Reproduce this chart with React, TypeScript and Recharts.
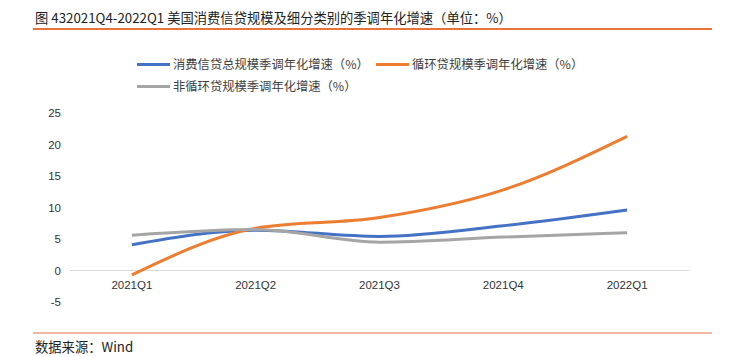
import React from 'react';
import { LineChart, Line, XAxis, YAxis, ReferenceLine } from 'recharts';

const quarters = ['2021Q1', '2021Q2', '2021Q3', '2021Q4', '2022Q1'];
const totalGrowth = [4.1, 6.4, 5.4, 7.1, 9.6];
const revolvingGrowth = [-0.7, 6.7, 8.4, 12.8, 21.3];
const nonRevolvingGrowth = [5.6, 6.5, 4.5, 5.3, 6.0];
const yTicks = [-5, 0, 5, 10, 15, 20, 25];

const series = [
  { key: 'total', name: '消费信贷总规模季调年化增速（%）', color: '#4472C4', values: totalGrowth },
  { key: 'revolving', name: '循环贷规模季调年化增速（%）', color: '#ED7D31', values: revolvingGrowth },
  { key: 'nonRevolving', name: '非循环贷规模季调年化增速（%）', color: '#A5A5A5', values: nonRevolvingGrowth },
];

const data = quarters.map((q, i) => {
  const row: Record<string, string | number> = { quarter: q };
  series.forEach((s) => {
    row[s.key] = s.values[i];
  });
  return row;
});

const cjk = '"Noto Sans CJK SC", "Liberation Sans", sans-serif';
const latin = '"Liberation Sans", Arial, sans-serif';

const QuarterTick = (props: any) => {
  const { x, y, payload } = props;
  return (
    <text x={x} y={y - 13} textAnchor="middle" fontSize={11.5} fill="#333" fontFamily={latin}>
      {payload.value}
    </text>
  );
};

const LegendItem: React.FC<{ name: string; color: string; left: number; top: number }> = ({ name, color, left, top }) => (
  <div style={{ position: 'absolute', left, top, display: 'flex', alignItems: 'center', whiteSpace: 'nowrap' }}>
    <div style={{ width: 33, height: 3, background: color, marginRight: 3 }} />
    <span style={{ fontSize: 12.3, color: '#404040', fontFamily: cjk }}>{name}</span>
  </div>
);

const App: React.FC = () => {
  return (
    <div style={{ position: 'absolute', left: 0, top: 0, width: 736, height: 357, background: '#fff', fontFamily: cjk }}>
      <div style={{ position: 'absolute', left: 35, top: 8, fontSize: 13.3, color: '#222', whiteSpace: 'nowrap' }}>
        图 432021Q4-2022Q1 美国消费信贷规模及细分类别的季调年化增速（单位：%）
      </div>
      <div style={{ position: 'absolute', left: 33, top: 28, width: 679, height: 2, background: '#E9743B' }} />

      <LegendItem name={series[0].name} color={series[0].color} left={137} top={55} />
      <LegendItem name={series[1].name} color={series[1].color} left={376} top={55} />
      <LegendItem name={series[2].name} color={series[2].color} left={137} top={77} />

      <div style={{ position: 'absolute', left: 0, top: 0 }}>
        <LineChart width={736} height={357} data={data} margin={{ top: 113, right: 47, left: 0, bottom: 25 }}>
          <XAxis
            dataKey="quarter"
            scale="band"
            axisLine={false}
            tickLine={false}
            tickSize={0}
            tickMargin={0}
            height={30}
            interval={0}
            tick={<QuarterTick />}
          />
          <YAxis
            domain={[-5, 25]}
            ticks={yTicks}
            width={70}
            axisLine={false}
            tickLine={false}
            tickMargin={3}
            tick={{ fontSize: 11.5, fill: '#333', fontFamily: latin }}
          />
          <ReferenceLine y={0} stroke="#D9D9D9" strokeWidth={1} />
          {series.map((s) => (
            <Line
              key={s.key}
              type="monotone"
              dataKey={s.key}
              name={s.name}
              stroke={s.color}
              strokeWidth={3}
              dot={false}
              isAnimationActive={false}
            />
          ))}
        </LineChart>
      </div>

      <div style={{ position: 'absolute', left: 33, top: 332, width: 679, height: 2, background: '#F2B79F' }} />
      <div style={{ position: 'absolute', left: 35, top: 337, fontSize: 13.3, color: '#222', whiteSpace: 'nowrap' }}>
        数据来源：Wind
      </div>
    </div>
  );
};

export default App;
